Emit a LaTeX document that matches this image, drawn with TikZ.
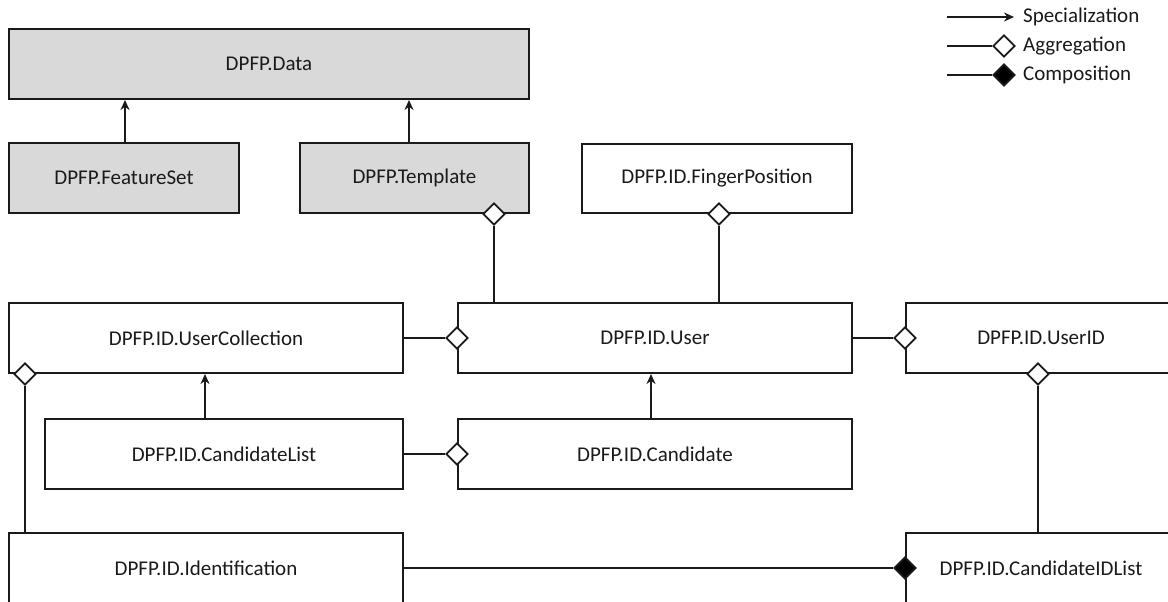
\documentclass[tikz,border=0pt]{standalone}
\usepackage{fontspec}
\setmainfont{Carlito}
\usetikzlibrary{arrows.meta,shapes.geometric}
\definecolor{boxgray}{HTML}{D9D9D9}
\definecolor{ink}{HTML}{1A1A1A}
\begin{document}
\begin{tikzpicture}[x=1pt,y=-1pt,
  font=\fontsize{21}{25}\selectfont,
  cls/.style={draw=ink,line width=2pt,fill=white,inner sep=0pt,text=ink},
  grey/.style={cls,fill=boxgray},
  conn/.style={draw=ink,line width=2pt},
  spec/.style={conn,-{Stealth[length=10pt,width=9pt]}},
  agg/.style={diamond,draw=ink,line width=1.7pt,fill=white,inner sep=0pt,minimum width=22pt,minimum height=22pt},
  comp/.style={agg,fill=black},
  legtext/.style={anchor=west,inner sep=0pt,text=ink}]
\useasboundingbox (0,0) rectangle (1168,602);
\clip (0,0) rectangle (1168,602);
\fill[white] (0,0) rectangle (1168,602);

% classes
\node[grey,minimum width=520pt,minimum height=70pt] (data) at (269,64) {DPFP.Data};
\node[grey,minimum width=230pt,minimum height=70pt] (feat) at (124,178) {DPFP.FeatureSet};
\node[grey,minimum width=229pt,minimum height=70pt] (tmpl) at (414.5,178) {DPFP.Template};
\node[cls,minimum width=270pt,minimum height=69pt] (finger) at (717,178.5) {DPFP.ID.FingerPosition};
\node[cls,minimum width=394pt,minimum height=70pt] (ucoll) at (206,338) {DPFP.ID.UserCollection};
\node[cls,minimum width=394pt,minimum height=70pt] (user) at (655,338) {DPFP.ID.User};
\node[cls,minimum width=270pt,minimum height=70pt] (uid) at (1041,338) {DPFP.ID.UserID};
\node[cls,minimum width=358pt,minimum height=70pt] (clist) at (224,454) {DPFP.ID.CandidateList};
\node[cls,minimum width=394pt,minimum height=70pt] (cand) at (655,454) {DPFP.ID.Candidate};
\node[cls,minimum width=394pt,minimum height=70pt] (ident) at (206,568) {DPFP.ID.Identification};
\node[cls,minimum width=270pt,minimum height=70pt] (cidl) at (1041,568) {DPFP.ID.CandidateIDList};

% specialization arrows
\draw[spec] ([xshift=1pt]feat.north) -- ([xshift=1pt]feat.north |- data.south);
\draw[spec] ([xshift=-5.5pt]tmpl.north) -- ([xshift=-5.5pt]tmpl.north |- data.south);
\draw[spec] ([xshift=-19pt]clist.north) -- ([xshift=-19pt]clist.north |- ucoll.south);
\draw[spec] ([xshift=-4pt]cand.north) -- ([xshift=-4pt]cand.north |- user.south);

% aggregation / composition diamonds
\node[agg] (dtmpl) at ([xshift=79.5pt]tmpl.south) {};
\node[agg] (dfing) at ([xshift=2pt]finger.south) {};
\node[agg] (duser) at (user.west) {};
\node[agg] (duid) at (uid.west) {};
\node[agg] (ducoll) at ([xshift=17pt]ucoll.south west) {};
\node[agg] (dcand) at (cand.west) {};
\node[agg] (duidb) at ([xshift=-3pt]uid.south) {};
\node[comp] (dcidl) at (cidl.west) {};

% connectors
\draw[conn] (dtmpl.south) -- (dtmpl.south |- user.north);
\draw[conn] (dfing.south) -- (dfing.south |- user.north);
\draw[conn] (ucoll.east) -- (duser.west);
\draw[conn] (user.east) -- (duid.west);
\draw[conn] (ducoll.south) -- (ducoll.south |- ident.north);
\draw[conn] (clist.east) -- (dcand.west);
\draw[conn] (duidb.south) -- (duidb.south |- cidl.north);
\draw[conn] (ident.east) -- (dcidl.west);

% legend
\coordinate (ls0) at (947,17);
\coordinate (ls1) at (1014,17);
\draw[spec] (ls0) -- (ls1);
\node[legtext] (lspec) at (1023,17) {Specialization};
\coordinate (la0) at (947,46);
\node[agg] (lad) at (1004,46) {};
\draw[conn] (la0) -- (lad.west);
\node[legtext] (lagg) at (1023,46) {Aggregation};
\coordinate (lc0) at (947,75);
\node[comp] (lcd) at (1004,75) {};
\draw[conn] (lc0) -- (lcd.west);
\node[legtext] (lcomp) at (1023,75) {Composition};
\end{tikzpicture}
\end{document}
